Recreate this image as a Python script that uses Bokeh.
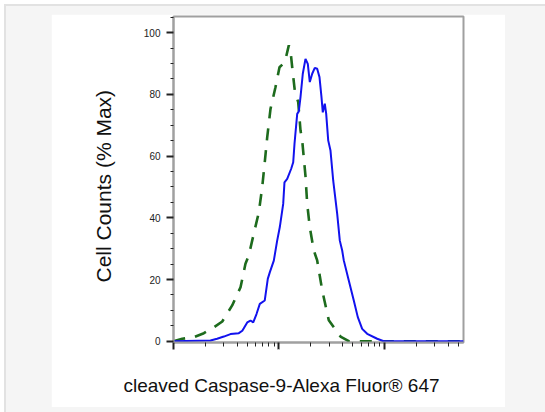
from bokeh.plotting import figure
from bokeh.layouts import column
from bokeh.models import FixedTicker, Title, Range1d, LogAxis
from bokeh.embed import file_html
from bokeh.resources import INLINE

# ---- data (intensity, % of max) ----
blue_x = [10, 22.4, 25.9, 30.0, 34.7, 41.6, 44.9, 50.0, 53.7, 57.0,
          61.2, 65.8, 73.3, 78.3, 81.8, 89.3, 96.1, 101.8, 109.6, 112.7,
          119.6, 130.5, 136.4, 140.3, 148.8, 154.1, 159.9, 168.1, 178.3, 187.5,
          195.9, 206.4, 218.4, 230.1, 242.0, 252.8, 260.1, 271.7, 280.2, 292.7,
          307.7, 326.4, 356.2, 377.1, 397.2, 411.3, 458.7, 511.7, 558.5, 614.6,
          685.5, 852.7, 984.9, 5610]
blue_y = [0, 0.2, 0.8, 1.5, 2.3, 2.6, 3.4, 6.1, 6.7, 6.1,
          8.8, 12.1, 13.2, 20.2, 22.3, 26.1, 32.6, 37.0, 44.5, 51.5,
          52.6, 55.9, 58.0, 64.0, 73.7, 74.5, 79.1, 86.7, 91.5, 89.9,
          84.0, 86.7, 88.6, 88.3, 85.6, 79.1, 74.2, 77.0, 73.7, 65.1,
          61.8, 52.1, 41.3, 32.6, 29.4, 26.2, 19.7, 13.2, 7.8, 4.0,
          2.4, 0.8, 0, 0]

green_x = [10, 12.1, 15.6, 19.4, 24.1, 29.0, 36.0, 43.2, 48.1, 51.7,
           55.7, 64.4, 69.3, 73.3, 77.3, 83.1, 92.6, 101.1, 113.5, 123.9,
           128.5, 133.4, 141.2, 152.1, 159.9, 165.9, 178.3, 185.1, 195.9, 213.8,
           230.1, 256.8, 296.5, 382.8, 458.7, 5610]
green_y = [0, 0.8, 1.3, 2.6, 4.5, 6.4, 11.6, 17.5, 25.1, 27.8,
           32.6, 41.8, 49.9, 58.0, 66.1, 75.3, 82.3, 88.8, 90.4, 95.9,
           94.2, 88.8, 81.2, 77.5, 68.3, 65.1, 53.5, 44.5, 36.9, 29.4,
           26.2, 16.5, 6.8, 1.5, 0, 0]

y_ticks = [0, 20, 40, 60, 80, 100]
y_minor = [5, 10, 15, 25, 30, 35, 45, 50, 55, 65, 70, 75, 85, 90, 95, 105]
x_ticks = [10, 100, 1000]
x_minor = [m * d for d in (10, 100, 1000) for m in range(2, 10)]

x_label = "cleaved Caspase-9-Alexa Fluor® 647"
y_label = "Cell Counts (% Max)"

FONT = "Liberation Sans"

p = figure(width=454, height=393, x_axis_type="log",
           x_range=Range1d(10, 5610), y_range=Range1d(-0.42, 105.25),
           output_backend="svg", toolbar_location=None,
           min_border_left=122, min_border_right=42,
           min_border_top=2, min_border_bottom=65,
           margin=(8, 40, 5, 45))

p.border_fill_color = "white"
p.background_fill_color = "white"
p.outline_line_color = "#a0a0a0"
p.outline_line_width = 2
p.xgrid.visible = False
p.ygrid.visible = False

p.line(green_x, green_y, line_color="#1d6b1d", line_width=2.6, line_dash="12 10")
p.line(blue_x, blue_y, line_color="#1212ee", line_width=2)

# axes styling
for ax in (p.xaxis[0], p.yaxis[0]):
    ax.axis_line_color = "#a0a0a0"
    ax.axis_line_width = 2
    ax.major_tick_line_color = "#222222"
    ax.minor_tick_line_color = "#222222"
    ax.major_tick_line_width = 2
    ax.minor_tick_line_width = 1
    ax.major_tick_in = 0
    ax.minor_tick_in = 0
    ax.major_tick_out = 7

p.yaxis.ticker = FixedTicker(ticks=y_ticks, minor_ticks=y_minor)
p.yaxis.minor_tick_out = 3
p.yaxis.major_label_text_font = FONT
p.yaxis.major_label_text_font_size = "10px"
p.yaxis.major_label_text_color = "#222222"
p.yaxis.major_label_standoff = 6

p.xaxis.ticker = FixedTicker(ticks=x_ticks, minor_ticks=x_minor)
p.xaxis.minor_tick_out = 4
p.xaxis.major_label_overrides = {t: "" for t in x_ticks}

# white (invisible) spacer axis below the x axis, pushes the x title down
spacer = LogAxis(ticker=FixedTicker(ticks=[100], minor_ticks=[]),
                 axis_line_color=None, major_tick_line_color="white",
                 major_tick_line_width=1, minor_tick_line_color=None,
                 major_tick_out=22, major_tick_in=0,
                 minor_tick_out=0, minor_tick_in=0,
                 major_label_overrides={100: ""})
p.add_layout(spacer, "below")

xt = Title(text=x_label, align="left", offset=-50, standoff=2,
           text_font=FONT, text_font_size="19px", text_font_style="normal",
           text_color="#111111")
yt = Title(text=y_label, align="left", offset=60, standoff=51,
           text_font=FONT, text_font_size="21px", text_font_style="normal",
           text_color="#111111")
p.add_layout(xt, "below")
p.add_layout(yt, "left")

page = column(p, margin=(4, 0, 0, 4),
              styles={"background-color": "#f5f5f5",
                      "border-top": "2px solid #e2e2e2",
                      "border-left": "2px solid #e2e2e2"})

open("out.html", "w").write(file_html(page, INLINE))
